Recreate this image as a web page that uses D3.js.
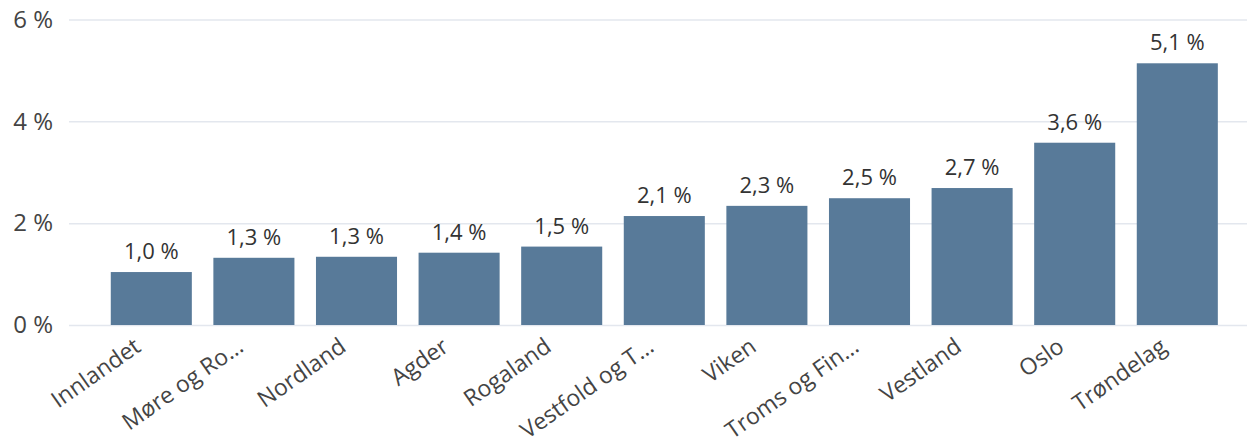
<!DOCTYPE html>
<html>
<head>
<meta charset="utf-8">
<script src="https://cdn.jsdelivr.net/npm/d3@7"></script>
<style>
  html, body { margin: 0; padding: 0; background: #ffffff; }
  svg { display: block; font-family: "Open Sans", "Noto Sans", sans-serif; }
</style>
</head>
<body>
<svg id="chart" width="1247" height="447"></svg>
<script>
// Regions (truncated names as shown on the axis)
const categories = ["Innlandet", "Møre og Ro…", "Nordland", "Agder", "Rogaland",
  "Vestfold og T…", "Viken", "Troms og Fin…", "Vestland", "Oslo", "Trøndelag"];
// Share in percent
const values = [1.04, 1.32, 1.34, 1.42, 1.54, 2.14, 2.34, 2.49, 2.69, 3.58, 5.14];
const yTicks = [0, 2, 4, 6];

const svg = d3.select("#chart");
const margin = { left: 69, right: 0 };
const W = 1247;

const x = d3.scaleBand()
  .domain(categories)
  .range([100, 1228.6])
  .paddingInner(0.21)
  .paddingOuter(0.105);

const y = d3.scaleLinear()
  .domain([0, 6])
  .range([325, 19.5]);

const fmt = v => d3.format(".1f")(v).replace(".", ",") + " %";

// Gridlines and y tick labels
const yAxis = d3.axisLeft(y)
  .tickValues(yTicks)
  .tickSize(-(W - margin.left - margin.right))
  .tickFormat(d => d + " %");

const gy = svg.append("g")
  .attr("transform", `translate(${margin.left},0)`)
  .call(yAxis);
gy.select(".domain").remove();
gy.selectAll(".tick line")
  .attr("stroke", "#e3e7ee")
  .attr("stroke-width", 1.5);
gy.selectAll(".tick text")
  .attr("x", -16)
  .attr("fill", "#444")
  .attr("font-size", 24)
  .attr("font-family", "Open Sans, Noto Sans, sans-serif");

// Bars
svg.append("g").selectAll("rect")
  .data(values)
  .join("rect")
  .attr("x", (d, i) => x(categories[i]))
  .attr("width", x.bandwidth())
  .attr("y", d => y(d))
  .attr("height", d => y(0) - y(d))
  .attr("fill", "#587a99");

// Value labels
svg.append("g").selectAll("text")
  .data(values)
  .join("text")
  .attr("x", (d, i) => x(categories[i]) + x.bandwidth() / 2)
  .attr("y", d => y(d) - 13)
  .attr("text-anchor", "middle")
  .attr("font-size", 22)
  .attr("fill", "#333")
  .text(d => fmt(d));

// Category labels, rotated
const xAxis = d3.axisBottom(x).tickSize(0).tickPadding(0);
const gx = svg.append("g")
  .attr("transform", `translate(0,${y(0)})`)
  .call(xAxis);
gx.select(".domain").remove();
gx.selectAll(".tick text")
  .attr("font-size", 23)
  .attr("fill", "#444")
  .attr("font-family", "Open Sans, Noto Sans, sans-serif")
  .attr("text-anchor", "end")
  .attr("dy", 0)
  .attr("transform", "translate(-9,25) rotate(-35)");
</script>
</body>
</html>
